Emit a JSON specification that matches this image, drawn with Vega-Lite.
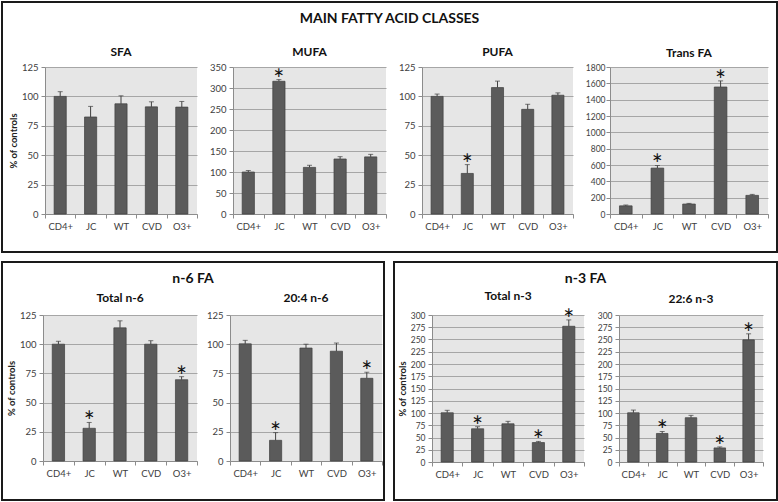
{
 "$schema": "https://vega.github.io/schema/vega-lite/v6.json",
 "padding": {"left": 1, "top": 1, "right": 0, "bottom": 0},
 "background": "white",
 "data": {"values": [
  {"panel": "SFA", "group": "CD4+", "value": 100, "upper": 104, "star": 0},
  {"panel": "SFA", "group": "JC", "value": 82.5, "upper": 91.5, "star": 0},
  {"panel": "SFA", "group": "WT", "value": 93.7, "upper": 100.5, "star": 0},
  {"panel": "SFA", "group": "CVD", "value": 91.1, "upper": 95.4, "star": 0},
  {"panel": "SFA", "group": "O3+", "value": 90.9, "upper": 95.7, "star": 0},
  {"panel": "MUFA", "group": "CD4+", "value": 100, "upper": 103.5, "star": 0},
  {"panel": "MUFA", "group": "JC", "value": 316, "upper": 320, "star": 1},
  {"panel": "MUFA", "group": "WT", "value": 111, "upper": 116, "star": 0},
  {"panel": "MUFA", "group": "CVD", "value": 131, "upper": 136.5, "star": 0},
  {"panel": "MUFA", "group": "O3+", "value": 136, "upper": 142, "star": 0},
  {"panel": "PUFA", "group": "CD4+", "value": 100, "upper": 102, "star": 0},
  {"panel": "PUFA", "group": "JC", "value": 34.5, "upper": 42, "star": 1},
  {"panel": "PUFA", "group": "WT", "value": 107.5, "upper": 113, "star": 0},
  {"panel": "PUFA", "group": "CVD", "value": 89, "upper": 93.3, "star": 0},
  {"panel": "PUFA", "group": "O3+", "value": 101, "upper": 103, "star": 0},
  {"panel": "Trans FA", "group": "CD4+", "value": 100, "upper": 110, "star": 0},
  {"panel": "Trans FA", "group": "JC", "value": 562, "upper": 594, "star": 1},
  {"panel": "Trans FA", "group": "WT", "value": 122, "upper": 130, "star": 0},
  {"panel": "Trans FA", "group": "CVD", "value": 1555, "upper": 1630, "star": 1},
  {"panel": "Trans FA", "group": "O3+", "value": 228, "upper": 240, "star": 0},
  {"panel": "Total n-6", "group": "CD4+", "value": 100, "upper": 102.5, "star": 0},
  {"panel": "Total n-6", "group": "JC", "value": 28, "upper": 33, "star": 1},
  {"panel": "Total n-6", "group": "WT", "value": 114, "upper": 120, "star": 0},
  {"panel": "Total n-6", "group": "CVD", "value": 100, "upper": 103, "star": 0},
  {"panel": "Total n-6", "group": "O3+", "value": 69.6, "upper": 72.2, "star": 1},
  {"panel": "20:4 n-6", "group": "CD4+", "value": 100.3, "upper": 103.3, "star": 0},
  {"panel": "20:4 n-6", "group": "JC", "value": 17.7, "upper": 24.3, "star": 1},
  {"panel": "20:4 n-6", "group": "WT", "value": 96.7, "upper": 100, "star": 0},
  {"panel": "20:4 n-6", "group": "CVD", "value": 94, "upper": 101, "star": 0},
  {"panel": "20:4 n-6", "group": "O3+", "value": 70.8, "upper": 76, "star": 1},
  {"panel": "Total n-3", "group": "CD4+", "value": 100.5, "upper": 105.5, "star": 0},
  {"panel": "Total n-3", "group": "JC", "value": 67.8, "upper": 72, "star": 1},
  {"panel": "Total n-3", "group": "WT", "value": 78, "upper": 83, "star": 0},
  {"panel": "Total n-3", "group": "CVD", "value": 39.7, "upper": 42, "star": 1},
  {"panel": "Total n-3", "group": "O3+", "value": 277, "upper": 290, "star": 1},
  {"panel": "22:6 n-3", "group": "CD4+", "value": 100.5, "upper": 106, "star": 0},
  {"panel": "22:6 n-3", "group": "JC", "value": 58.2, "upper": 62.3, "star": 1},
  {"panel": "22:6 n-3", "group": "WT", "value": 90.4, "upper": 95.2, "star": 0},
  {"panel": "22:6 n-3", "group": "CVD", "value": 28.8, "upper": 30.8, "star": 1},
  {"panel": "22:6 n-3", "group": "O3+", "value": 249.3, "upper": 261.6, "star": 1}
 ]},
 "spacing": 8,
 "vconcat": [
  {
   "columns": 1, "align": "none", "spacing": -207,
   "concat": [
    {
     "width": 775, "height": 250,
     "view": {"stroke": "#1a1a1a", "strokeWidth": 2, "fill": "transparent"},
     "title": {"text": "MAIN FATTY ACID CLASSES", "fontSize": 14, "offset": -24},
     "transform": [{"filter": "false"}],
     "mark": "point"
    },
    {
     "spacing": 5,
     "hconcat": [
      {"width": 1, "height": 1, "view": {"fill": null, "stroke": null}, "transform": [{"filter": "false"}], "mark": "point"},
      {
       "spacing": 11,
       "hconcat": [
        {
         "width": 152, "height": 147, "title": "SFA",
         "transform": [{"filter": "datum.panel === 'SFA'"}],
         "encoding": {"x": {"field": "group", "type": "nominal", "scale": {"domain": ["CD4+", "JC", "WT", "CVD", "O3+"], "padding": 0}}},
         "layer": [
          {"mark": {"type": "bar", "width": {"band": 0.4}, "fill": "#5b5b5b", "stroke": "#3f3f3f", "strokeWidth": 0.7},
           "encoding": {"y": {"field": "value", "type": "quantitative", "scale": {"domain": [0, 125], "nice": false}, "axis": {"values": [0, 25, 50, 75, 100, 125], "title": "% of controls", "format": "d"}}}},
          {"mark": {"type": "rule", "color": "#404040"}, "encoding": {"y": {"field": "value", "type": "quantitative", "scale": {"domain": [0, 125], "nice": false}, "axis": {"values": [0, 25, 50, 75, 100, 125], "title": "% of controls", "format": "d"}}, "y2": {"field": "upper"}}},
          {"mark": {"type": "tick", "color": "#404040", "thickness": 1, "size": 5}, "encoding": {"y": {"field": "upper", "type": "quantitative", "scale": {"domain": [0, 125], "nice": false}, "axis": {"values": [0, 25, 50, 75, 100, 125], "title": "% of controls", "format": "d"}}}},
          {"transform": [{"filter": "datum.star == 1"}], "mark": {"type": "text", "text": "*", "fontSize": 26, "baseline": "alphabetic", "dy": 9, "color": "#111"}, "encoding": {"y": {"field": "upper", "type": "quantitative", "scale": {"domain": [0, 125], "nice": false}, "axis": {"values": [0, 25, 50, 75, 100, 125], "title": "% of controls", "format": "d"}}}}
         ]
        },
        {
         "width": 153, "height": 147, "title": "MUFA",
         "transform": [{"filter": "datum.panel === 'MUFA'"}],
         "encoding": {"x": {"field": "group", "type": "nominal", "scale": {"domain": ["CD4+", "JC", "WT", "CVD", "O3+"], "padding": 0}}},
         "layer": [
          {"mark": {"type": "bar", "width": {"band": 0.4}, "fill": "#5b5b5b", "stroke": "#3f3f3f", "strokeWidth": 0.7},
           "encoding": {"y": {"field": "value", "type": "quantitative", "scale": {"domain": [0, 350], "nice": false}, "axis": {"values": [0, 50, 100, 150, 200, 250, 300, 350], "title": null, "format": "d"}}}},
          {"mark": {"type": "rule", "color": "#404040"}, "encoding": {"y": {"field": "value", "type": "quantitative", "scale": {"domain": [0, 350], "nice": false}, "axis": {"values": [0, 50, 100, 150, 200, 250, 300, 350], "title": null, "format": "d"}}, "y2": {"field": "upper"}}},
          {"mark": {"type": "tick", "color": "#404040", "thickness": 1, "size": 5}, "encoding": {"y": {"field": "upper", "type": "quantitative", "scale": {"domain": [0, 350], "nice": false}, "axis": {"values": [0, 50, 100, 150, 200, 250, 300, 350], "title": null, "format": "d"}}}},
          {"transform": [{"filter": "datum.star == 1"}], "mark": {"type": "text", "text": "*", "fontSize": 26, "baseline": "alphabetic", "dy": 9, "color": "#111"}, "encoding": {"y": {"field": "upper", "type": "quantitative", "scale": {"domain": [0, 350], "nice": false}, "axis": {"values": [0, 50, 100, 150, 200, 250, 300, 350], "title": null, "format": "d"}}}}
         ]
        },
        {
         "width": 151, "height": 147, "title": "PUFA",
         "transform": [{"filter": "datum.panel === 'PUFA'"}],
         "encoding": {"x": {"field": "group", "type": "nominal", "scale": {"domain": ["CD4+", "JC", "WT", "CVD", "O3+"], "padding": 0}}},
         "layer": [
          {"mark": {"type": "bar", "width": {"band": 0.4}, "fill": "#5b5b5b", "stroke": "#3f3f3f", "strokeWidth": 0.7},
           "encoding": {"y": {"field": "value", "type": "quantitative", "scale": {"domain": [0, 125], "nice": false}, "axis": {"values": [0, 25, 50, 75, 100, 125], "title": null, "format": "d"}}}},
          {"mark": {"type": "rule", "color": "#404040"}, "encoding": {"y": {"field": "value", "type": "quantitative", "scale": {"domain": [0, 125], "nice": false}, "axis": {"values": [0, 25, 50, 75, 100, 125], "title": null, "format": "d"}}, "y2": {"field": "upper"}}},
          {"mark": {"type": "tick", "color": "#404040", "thickness": 1, "size": 5}, "encoding": {"y": {"field": "upper", "type": "quantitative", "scale": {"domain": [0, 125], "nice": false}, "axis": {"values": [0, 25, 50, 75, 100, 125], "title": null, "format": "d"}}}},
          {"transform": [{"filter": "datum.star == 1"}], "mark": {"type": "text", "text": "*", "fontSize": 26, "baseline": "alphabetic", "dy": 9, "color": "#111"}, "encoding": {"y": {"field": "upper", "type": "quantitative", "scale": {"domain": [0, 125], "nice": false}, "axis": {"values": [0, 25, 50, 75, 100, 125], "title": null, "format": "d"}}}}
         ]
        },
        {
         "width": 158, "height": 147, "title": "Trans FA",
         "transform": [{"filter": "datum.panel === 'Trans FA'"}],
         "encoding": {"x": {"field": "group", "type": "nominal", "scale": {"domain": ["CD4+", "JC", "WT", "CVD", "O3+"], "padding": 0}}},
         "layer": [
          {"mark": {"type": "bar", "width": {"band": 0.4}, "fill": "#5b5b5b", "stroke": "#3f3f3f", "strokeWidth": 0.7},
           "encoding": {"y": {"field": "value", "type": "quantitative", "scale": {"domain": [0, 1800], "nice": false}, "axis": {"values": [0, 200, 400, 600, 800, 1000, 1200, 1400, 1600, 1800], "title": null, "format": "d", "labelFontSize": 8.5, "labelPadding": 1}}}},
          {"mark": {"type": "rule", "color": "#404040"}, "encoding": {"y": {"field": "value", "type": "quantitative", "scale": {"domain": [0, 1800], "nice": false}, "axis": {"values": [0, 200, 400, 600, 800, 1000, 1200, 1400, 1600, 1800], "title": null, "format": "d", "labelFontSize": 8.5, "labelPadding": 1}}, "y2": {"field": "upper"}}},
          {"mark": {"type": "tick", "color": "#404040", "thickness": 1, "size": 5}, "encoding": {"y": {"field": "upper", "type": "quantitative", "scale": {"domain": [0, 1800], "nice": false}, "axis": {"values": [0, 200, 400, 600, 800, 1000, 1200, 1400, 1600, 1800], "title": null, "format": "d", "labelFontSize": 8.5, "labelPadding": 1}}}},
          {"transform": [{"filter": "datum.star == 1"}], "mark": {"type": "text", "text": "*", "fontSize": 26, "baseline": "alphabetic", "dy": 9, "color": "#111"}, "encoding": {"y": {"field": "upper", "type": "quantitative", "scale": {"domain": [0, 1800], "nice": false}, "axis": {"values": [0, 200, 400, 600, 800, 1000, 1200, 1400, 1600, 1800], "title": null, "format": "d", "labelFontSize": 8.5, "labelPadding": 1}}}}
         ]
        }
       ]
      }
     ]
    }
   ]
  },
  {
   "spacing": 8,
   "hconcat": [
    {
     "columns": 1, "align": "none", "spacing": -209,
     "concat": [
      {
       "width": 382, "height": 238,
       "view": {"stroke": "#1a1a1a", "strokeWidth": 2, "fill": "transparent"},
       "title": {"text": "n-6 FA", "fontSize": 14, "offset": -24},
       "transform": [{"filter": "false"}],
       "mark": "point"
      },
      {
       "spacing": 3,
       "hconcat": [
        {"width": 1, "height": 1, "view": {"fill": null, "stroke": null}, "transform": [{"filter": "false"}], "mark": "point"},
        {
         "spacing": 8,
         "hconcat": [
          {
           "width": 154, "height": 146, "title": {"text": "Total n-6", "offset": 5},
           "transform": [{"filter": "datum.panel === 'Total n-6'"}],
           "encoding": {"x": {"field": "group", "type": "nominal", "scale": {"domain": ["CD4+", "JC", "WT", "CVD", "O3+"], "padding": 0}}},
           "layer": [
            {"mark": {"type": "bar", "width": {"band": 0.4}, "fill": "#5b5b5b", "stroke": "#3f3f3f", "strokeWidth": 0.7},
             "encoding": {"y": {"field": "value", "type": "quantitative", "scale": {"domain": [0, 125], "nice": false}, "axis": {"values": [0, 25, 50, 75, 100, 125], "title": "% of controls", "format": "d"}}}},
            {"mark": {"type": "rule", "color": "#404040"}, "encoding": {"y": {"field": "value", "type": "quantitative", "scale": {"domain": [0, 125], "nice": false}, "axis": {"values": [0, 25, 50, 75, 100, 125], "title": "% of controls", "format": "d"}}, "y2": {"field": "upper"}}},
            {"mark": {"type": "tick", "color": "#404040", "thickness": 1, "size": 5}, "encoding": {"y": {"field": "upper", "type": "quantitative", "scale": {"domain": [0, 125], "nice": false}, "axis": {"values": [0, 25, 50, 75, 100, 125], "title": "% of controls", "format": "d"}}}},
            {"transform": [{"filter": "datum.star == 1"}], "mark": {"type": "text", "text": "*", "fontSize": 26, "baseline": "alphabetic", "dy": 9, "color": "#111"}, "encoding": {"y": {"field": "upper", "type": "quantitative", "scale": {"domain": [0, 125], "nice": false}, "axis": {"values": [0, 25, 50, 75, 100, 125], "title": "% of controls", "format": "d"}}}}
           ]
          },
          {
           "width": 152, "height": 146, "title": {"text": "20:4 n-6", "offset": 5},
           "transform": [{"filter": "datum.panel === '20:4 n-6'"}],
           "encoding": {"x": {"field": "group", "type": "nominal", "scale": {"domain": ["CD4+", "JC", "WT", "CVD", "O3+"], "padding": 0}}},
           "layer": [
            {"mark": {"type": "bar", "width": {"band": 0.4}, "fill": "#5b5b5b", "stroke": "#3f3f3f", "strokeWidth": 0.7},
             "encoding": {"y": {"field": "value", "type": "quantitative", "scale": {"domain": [0, 125], "nice": false}, "axis": {"values": [0, 25, 50, 75, 100, 125], "title": null, "format": "d"}}}},
            {"mark": {"type": "rule", "color": "#404040"}, "encoding": {"y": {"field": "value", "type": "quantitative", "scale": {"domain": [0, 125], "nice": false}, "axis": {"values": [0, 25, 50, 75, 100, 125], "title": null, "format": "d"}}, "y2": {"field": "upper"}}},
            {"mark": {"type": "tick", "color": "#404040", "thickness": 1, "size": 5}, "encoding": {"y": {"field": "upper", "type": "quantitative", "scale": {"domain": [0, 125], "nice": false}, "axis": {"values": [0, 25, 50, 75, 100, 125], "title": null, "format": "d"}}}},
            {"transform": [{"filter": "datum.star == 1"}], "mark": {"type": "text", "text": "*", "fontSize": 26, "baseline": "alphabetic", "dy": 9, "color": "#111"}, "encoding": {"y": {"field": "upper", "type": "quantitative", "scale": {"domain": [0, 125], "nice": false}, "axis": {"values": [0, 25, 50, 75, 100, 125], "title": null, "format": "d"}}}}
           ]
          }
         ]
        }
       ]
      }
     ]
    },
    {
     "columns": 1, "align": "none", "spacing": -212,
     "concat": [
      {
       "width": 383, "height": 238,
       "view": {"stroke": "#1a1a1a", "strokeWidth": 2, "fill": "transparent"},
       "title": {"text": "n-3 FA", "fontSize": 14, "offset": -24},
       "transform": [{"filter": "false"}],
       "mark": "point"
      },
      {
       "spacing": 2,
       "hconcat": [
        {"width": 1, "height": 1, "view": {"fill": null, "stroke": null}, "transform": [{"filter": "false"}], "mark": "point"},
        {
         "spacing": 12,
         "hconcat": [
          {
           "width": 152, "height": 147, "title": {"text": "Total n-3", "offset": 5},
           "transform": [{"filter": "datum.panel === 'Total n-3'"}],
           "encoding": {"x": {"field": "group", "type": "nominal", "scale": {"domain": ["CD4+", "JC", "WT", "CVD", "O3+"], "padding": 0}}},
           "layer": [
            {"mark": {"type": "bar", "width": {"band": 0.4}, "fill": "#5b5b5b", "stroke": "#3f3f3f", "strokeWidth": 0.7},
             "encoding": {"y": {"field": "value", "type": "quantitative", "scale": {"domain": [0, 300], "nice": false}, "axis": {"values": [0, 25, 50, 75, 100, 125, 150, 175, 200, 225, 250, 275, 300], "title": "% of controls", "format": "d", "labelFontSize": 8.5}}}},
            {"mark": {"type": "rule", "color": "#404040"}, "encoding": {"y": {"field": "value", "type": "quantitative", "scale": {"domain": [0, 300], "nice": false}, "axis": {"values": [0, 25, 50, 75, 100, 125, 150, 175, 200, 225, 250, 275, 300], "title": "% of controls", "format": "d", "labelFontSize": 8.5}}, "y2": {"field": "upper"}}},
            {"mark": {"type": "tick", "color": "#404040", "thickness": 1, "size": 5}, "encoding": {"y": {"field": "upper", "type": "quantitative", "scale": {"domain": [0, 300], "nice": false}, "axis": {"values": [0, 25, 50, 75, 100, 125, 150, 175, 200, 225, 250, 275, 300], "title": "% of controls", "format": "d", "labelFontSize": 8.5}}}},
            {"transform": [{"filter": "datum.star == 1"}], "mark": {"type": "text", "text": "*", "fontSize": 26, "baseline": "alphabetic", "dy": 9, "color": "#111"}, "encoding": {"y": {"field": "upper", "type": "quantitative", "scale": {"domain": [0, 300], "nice": false}, "axis": {"values": [0, 25, 50, 75, 100, 125, 150, 175, 200, 225, 250, 275, 300], "title": "% of controls", "format": "d", "labelFontSize": 8.5}}}}
           ]
          },
          {
           "width": 144, "height": 147, "title": {"text": "22:6 n-3", "offset": 5},
           "transform": [{"filter": "datum.panel === '22:6 n-3'"}],
           "encoding": {"x": {"field": "group", "type": "nominal", "scale": {"domain": ["CD4+", "JC", "WT", "CVD", "O3+"], "padding": 0}}},
           "layer": [
            {"mark": {"type": "bar", "width": {"band": 0.4}, "fill": "#5b5b5b", "stroke": "#3f3f3f", "strokeWidth": 0.7},
             "encoding": {"y": {"field": "value", "type": "quantitative", "scale": {"domain": [0, 300], "nice": false}, "axis": {"values": [0, 25, 50, 75, 100, 125, 150, 175, 200, 225, 250, 275, 300], "title": null, "format": "d", "labelFontSize": 8.5}}}},
            {"mark": {"type": "rule", "color": "#404040"}, "encoding": {"y": {"field": "value", "type": "quantitative", "scale": {"domain": [0, 300], "nice": false}, "axis": {"values": [0, 25, 50, 75, 100, 125, 150, 175, 200, 225, 250, 275, 300], "title": null, "format": "d", "labelFontSize": 8.5}}, "y2": {"field": "upper"}}},
            {"mark": {"type": "tick", "color": "#404040", "thickness": 1, "size": 5}, "encoding": {"y": {"field": "upper", "type": "quantitative", "scale": {"domain": [0, 300], "nice": false}, "axis": {"values": [0, 25, 50, 75, 100, 125, 150, 175, 200, 225, 250, 275, 300], "title": null, "format": "d", "labelFontSize": 8.5}}}},
            {"transform": [{"filter": "datum.star == 1"}], "mark": {"type": "text", "text": "*", "fontSize": 26, "baseline": "alphabetic", "dy": 9, "color": "#111"}, "encoding": {"y": {"field": "upper", "type": "quantitative", "scale": {"domain": [0, 300], "nice": false}, "axis": {"values": [0, 25, 50, 75, 100, 125, 150, 175, 200, 225, 250, 275, 300], "title": null, "format": "d", "labelFontSize": 8.5}}}}
           ]
          }
         ]
        }
       ]
      }
     ]
    }
   ]
  }
 ],
 "config": {
  "font": "Lato",
  "view": {"stroke": null, "fill": "#e6e6e6"},
  "axis": {"labelFont": "Lato", "labelFontSize": 9.5, "labelColor": "#404040", "domainColor": "#8c8c8c", "tickColor": "#8c8c8c", "tickSize": 4, "labelPadding": 3, "gridColor": "#a6a6a6", "titleFont": "Lato", "titleFontSize": 9.5, "titleFontWeight": "bold", "titleColor": "#222", "titlePadding": 3, "labelOverlap": false},
  "axisX": {"grid": false, "labelAngle": 0, "tickBand": "extent", "title": null},
  "axisY": {"grid": true},
  "title": {"font": "Lato", "fontSize": 12, "fontWeight": "bold", "color": "#111", "offset": 3, "frame": "group", "anchor": "middle"}
 }
}
